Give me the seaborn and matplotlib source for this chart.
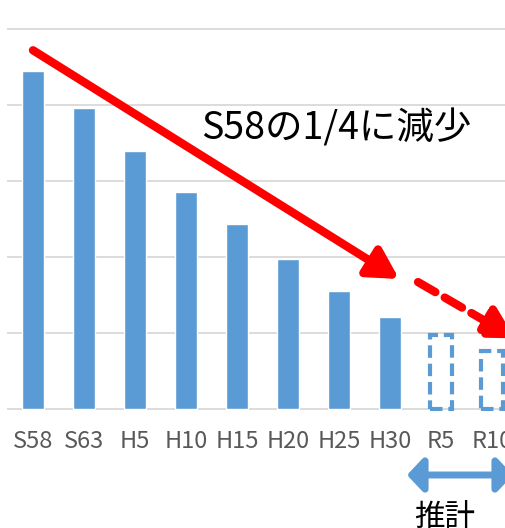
import matplotlib
matplotlib.use("Agg")
import matplotlib.pyplot as plt
import seaborn as sns
import pandas as pd

# ---- data (y axis has no scale, values in grid units) ----
categories = ["S58", "S63", "H5", "H10", "H15", "H20", "H25", "H30", "R5", "R10"]
values = [4.45, 3.96, 3.39, 2.86, 2.43, 1.97, 1.55, 1.21, 0.97, 0.76]
kinds = ["実績"] * 8 + ["推計"] * 2
trend_label = "S58の1/4に減少"
estimate_label = "推計"

sns.set_theme(style="white")
plt.rcParams["font.family"] = ["Noto Sans CJK JP", "DejaVu Sans"]

df = pd.DataFrame({"cat": categories, "val": values, "kind": kinds})
blue = "#5B9BD5"
W, H = 506, 528

fig = plt.figure(figsize=(W / 100, H / 100), dpi=100)
ppu = 76.0  # pixels per y unit
ax = fig.add_axes([7.5 / W, (119 - 0.02 * ppu) / H, 510 / W, 5.04 * ppu / H])

sns.barplot(data=df[df.kind == "実績"], x="cat", y="val", order=categories,
            color=blue, saturation=1, width=0.45, errorbar=None, ax=ax)
sns.barplot(data=df[df.kind == "推計"], x="cat", y="val", order=categories,
            color=blue, saturation=1, width=0.42, errorbar=None, fill=False,
            linewidth=3.0, linestyle=(0, (3, 1.4)), ax=ax)

ax.set_xlim(-0.5, 9.5)
ax.set_ylim(-0.02, 5.02)
ax.set_yticks(range(6))
ax.yaxis.grid(True, color="#d9d9d9", linewidth=1.3)
ax.set_axisbelow(True)
for s in ax.spines.values():
    s.set_visible(False)
ax.tick_params(axis="both", length=0)
ax.tick_params(axis="y", labelleft=False)
ax.tick_params(axis="x", labelsize=17, labelcolor="#595959", pad=14)
ax.set_xlabel("")
ax.set_ylabel("")

# red trend arrows
ax.annotate("", xy=(7.18, 1.71), xytext=(0.0, 4.72),
            arrowprops=dict(arrowstyle="-|>,head_length=0.9,head_width=0.5",
                            color="#FF0000", lw=6, shrinkA=0, shrinkB=0,
                            mutation_scale=20), annotation_clip=False)
ax.annotate("", xy=(9.45, 0.93), xytext=(7.55, 1.67),
            arrowprops=dict(arrowstyle="-|>,head_length=0.9,head_width=0.5",
                            color="#FF0000", lw=6, shrinkA=0, shrinkB=0,
                            linestyle=(0, (2.4, 1.3)), mutation_scale=20),
            annotation_clip=False)

fig.text(201 / W, (H - 139) / H, trend_label, fontsize=27, color="black",
         ha="left", va="baseline")

# blue double arrow for estimates
ax.annotate("", xy=(513, 53), xytext=(407, 53), xycoords="figure pixels",
            textcoords="figure pixels",
            arrowprops=dict(arrowstyle="<|-|>,head_length=0.8,head_width=0.85",
                            color=blue, lw=5, shrinkA=0, shrinkB=0,
                            mutation_scale=12), annotation_clip=False)
fig.text(414 / W, (H - 526) / H, estimate_label, fontsize=22, color="black",
         ha="left", va="baseline")

fig.savefig("out.png", dpi=100)
